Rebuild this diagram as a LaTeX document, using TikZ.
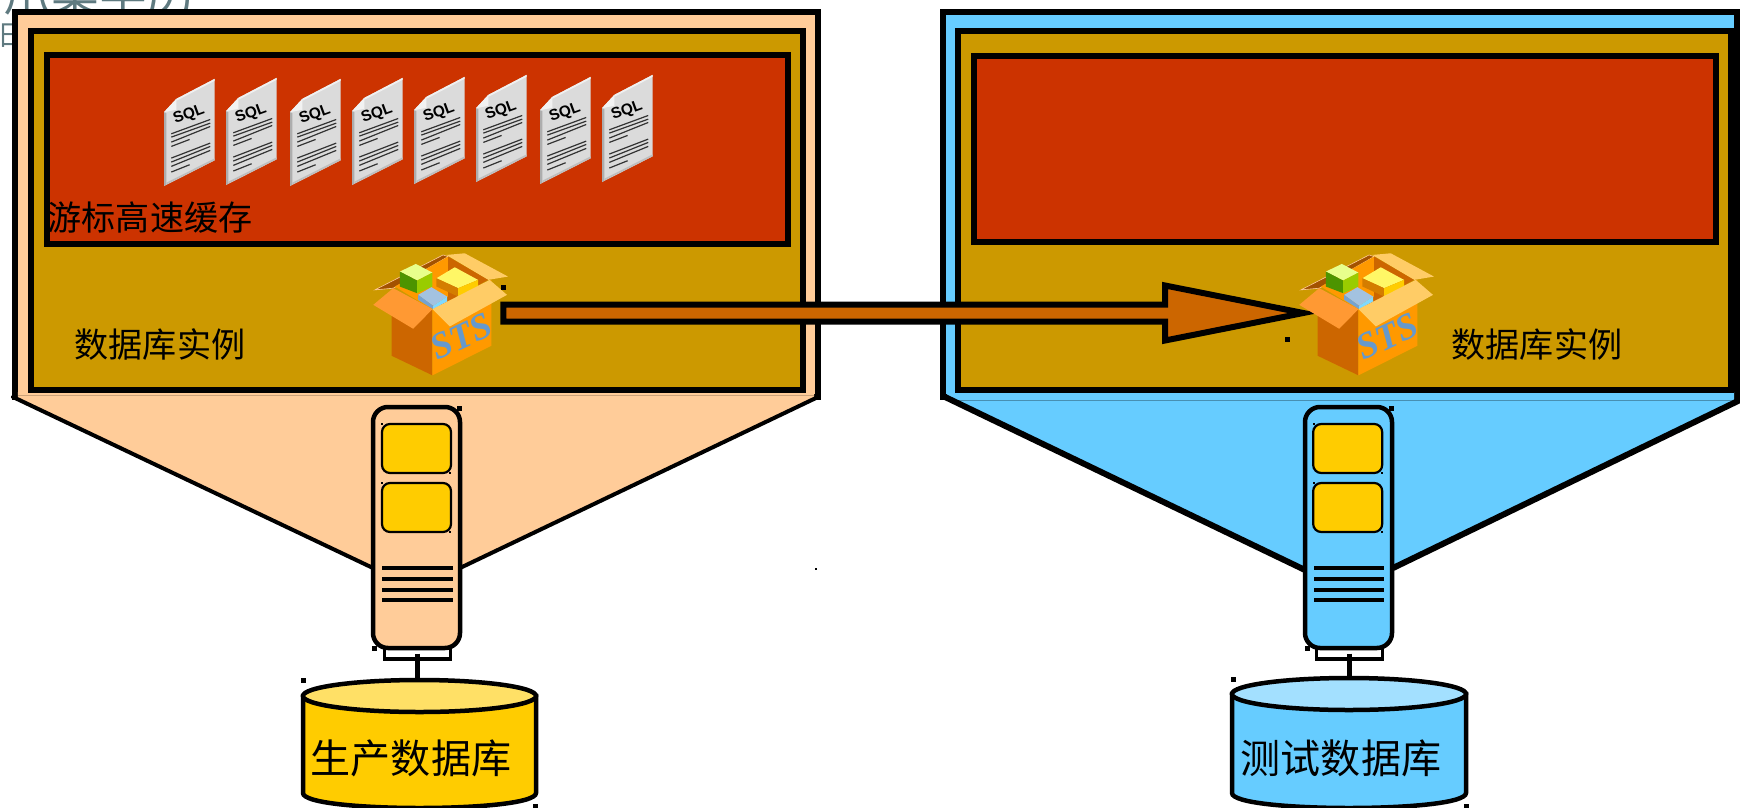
\documentclass[tikz,border=0pt]{standalone}
\usepackage{fontspec}
\newfontfamily\cjk{Noto Sans CJK SC}
\newfontfamily\stsfont{Liberation Serif}
\newfontfamily\sqlfont{Liberation Sans}
\usetikzlibrary{shapes.geometric,shapes.arrows,calc}

\definecolor{peach}{HTML}{FFCC99}
\definecolor{sky}{HTML}{66CCFF}
\definecolor{gold}{HTML}{CC9900}
\definecolor{cache}{HTML}{CC3300}
\definecolor{amber}{HTML}{FFCC00}
\definecolor{rust}{HTML}{CC6600}
\definecolor{stray}{HTML}{5F7A80}
\definecolor{boxface}{HTML}{FF9900}
\definecolor{flapleft}{HTML}{FF9933}
\definecolor{flapright}{HTML}{FFCC66}
\definecolor{stsblue}{HTML}{6699CC}

\begin{document}
\begin{tikzpicture}[
  y=-1cm,
  box/.style={rectangle, draw=black, line width=.06cm, inner sep=0pt, outer sep=0pt},
  outerbox/.style={box},
  goldbox/.style={box, fill=gold, minimum width=#1},
  cachebox/.style={box, fill=cache, minimum width=#1},
  srv/.style={box, line width=.045cm, rounded corners=.15cm, minimum width=.87cm, minimum height=2.41cm},
  slot/.style={box, line width=.022cm, rounded corners=.08cm, fill=amber, minimum width=.69cm, minimum height=.49cm},
  foot/.style={box, line width=.035cm, fill=white, minimum width=.66cm, minimum height=.11cm},
  bar/.style={line width=.04cm},
  link/.style={line width=.05cm},
  edge/.style={line width=#1, line cap=round},
  dbwall/.style={draw=black, line width=.045cm},
  dbtop/.style={ellipse, draw=black, line width=.045cm, inner sep=0pt, outer sep=0pt, minimum height=.32cm},
  flowarrow/.style={single arrow, draw=black, fill=rust, line width=.06cm, inner xsep=0pt, inner ysep=.055cm, outer sep=0pt,
    minimum height=8.00cm, minimum width=.52cm, single arrow head extend=.19cm, single arrow head indent=0cm,
    single arrow tip angle=22.5},
  hdl/.style={fill=black, inner sep=0pt, outer sep=0pt, minimum size=.05cm},
  hdlsmall/.style={hdl, minimum size=.025cm},
  lab/.style={text=black, inner sep=0pt, font=\cjk\fontsize{9.7}{11}\selectfont},
  dblab/.style={lab, font=\cjk\fontsize{11.4}{13}\selectfont},
  sqldoc/.pic={
    \begin{scope}[x=.00333cm,y=.00333cm]
      \fill[black!14] (0,222) -- (37,262) -- (152,322) -- (152,77) -- (0,0) -- cycle;
      \fill[black!6] (37,262) -- (152,322) -- (152,316) -- (37,256) -- cycle;
      \fill[black!32] (0,222) -- (7,219) -- (7,4) -- (0,0) -- cycle;
      \fill[black!25] (7,4) -- (152,77) -- (152,83) -- (7,10) -- cycle;
      \fill[black!5] (0,222) -- (37,262) -- (37,229) -- cycle;
      \draw[black!80, line width=.012cm] (22,157) -- (139,200) (22,147) -- (139,189) (22,132) -- (139,179) (22,119) -- (77,140)
        (22,84) -- (139,129) (22,72) -- (139,119) (22,59) -- (139,107) (22,42) -- (77,64);
      \node[rotate=20, inner sep=0pt, text=black, font=\sqlfont\bfseries\fontsize{4.4}{5}\selectfont] at (75,214) {SQL};
    \end{scope}
  },
  stsbox/.pic={
    \begin{scope}[x=.00333cm,y=-.00333cm]
      \fill[rust!80!black, draw=peach, line width=.006cm] (105,180) -- (310,75) -- (325,80) -- (160,175) -- cycle;
      \fill[flapright] (320,75) -- (375,70) -- (505,140) -- (445,150) -- cycle;
      \fill[boxface] (165,170) -- (325,80) -- (325,200) -- (280,240) -- cycle;
      \fill[rust] (325,80) -- (445,150) -- (280,240) -- (325,200) -- cycle;
      \fill[green!20!yellow!45!white] (180,125) -- (228,102) -- (278,128) -- (232,152) -- cycle;
      \fill[green!40!black!70!yellow] (180,125) -- (232,152) -- (232,190) -- (180,170) -- cycle;
      \fill[green!25!yellow!80!black] (232,152) -- (278,128) -- (278,170) -- (232,190) -- cycle;
      \fill[yellow!60!white] (290,145) -- (345,112) -- (415,150) -- (355,175) -- cycle;
      \fill[rust!85!yellow] (290,145) -- (355,175) -- (355,200) -- (290,170) -- cycle;
      \fill[amber] (355,175) -- (415,150) -- (415,170) -- (355,200) -- cycle;
      \fill[stsblue!60!white] (235,195) -- (275,172) -- (322,200) -- (280,228) -- cycle;
      \fill[stsblue!90!white] (235,195) -- (280,228) -- (280,238) -- (235,210) -- cycle;
      \fill[blue!30!cyan!50!white] (280,228) -- (322,200) -- (322,215) -- (280,238) -- cycle;
      \fill[rust] (155,240) -- (278,240) -- (278,437) -- (155,378) -- cycle;
      \fill[boxface] (278,240) -- (455,150) -- (455,348) -- (278,437) -- cycle;
      \fill[flapleft] (100,225) -- (160,175) -- (278,238) -- (220,297) -- cycle;
      \fill[flapright] (278,238) -- (450,150) -- (502,195) -- (330,290) -- cycle;
      \node[rotate=25, inner sep=0pt, text=stsblue, font=\stsfont\itshape\bfseries\fontsize{10.5}{12}\selectfont] at (365,320) {STS};
    \end{scope}
  },
]
\useasboundingbox (0,0) rectangle (17.40,8.08);

% text behind the left box, cut by the page
\begin{scope}
  \clip (0,0) rectangle (17.40,8.08);
  \node[anchor=base west, inner sep=0pt, text=stray, font=\cjk\fontsize{13.6}{15}\selectfont] (straytop) at (.03,.11) {爪集学历};
  \node[inner sep=0pt, text=stray, font=\cjk\fontsize{8}{9}\selectfont] (strayday) at (.12,.36) {日};
\end{scope}

% left side
\node[outerbox, fill=peach, minimum width=8.03cm, minimum height=3.85cm] (hostA) at (4.165,2.045) {};
\fill[peach] (.18,3.92) -- (.18,3.98) -- (3.72,5.68) -- (4.60,5.68) -- (8.14,3.98) -- (8.14,3.92) -- cycle;
\draw[peach!80!black, line width=.008cm] (.18,3.95) -- (8.14,3.95);
\draw[edge=.04cm] (.13,3.97) -- (3.73,5.68);
\draw[edge=.04cm] (4.60,5.68) -- (8.18,3.97);
\node[goldbox=7.72cm, minimum height=3.59cm] (instA) at (4.17,2.105) {};
\node[cachebox=7.41cm, minimum height=1.89cm] (cacheA) at (4.175,1.495) {};

% right side
\node[outerbox, fill=sky, minimum width=7.94cm, minimum height=3.85cm] (hostB) at (13.40,2.045) {};
\fill[sky] (9.47,3.92) -- (9.47,3.98) -- (13.05,5.70) -- (13.93,5.68) -- (17.34,4.00) -- (17.34,3.92) -- cycle;
\draw[sky!70!black, line width=.01cm] (9.47,4.00) -- (17.40,4.00);
\draw[edge=.06cm] (9.43,3.96) -- (13.05,5.70);
\draw[edge=.06cm] (13.93,5.68) -- (17.40,4.00);
\node[goldbox=7.73cm, minimum height=3.59cm] (instB) at (13.445,2.105) {};
\node[cachebox=7.42cm, minimum height=1.86cm] (cacheB) at (13.45,1.49) {};

% sql files
\foreach \dx/\dy in {1.64/1.86,2.26/1.85,2.90/1.86,3.52/1.85,4.14/1.84,4.76/1.82,5.40/1.84,6.02/1.82}
  \pic at (\dx,\dy) {sqldoc};

\node[lab] (cacheAlab) at (1.50,2.18) {游标高速缓存};
\node[lab] (instAlab) at (1.60,3.45) {数据库实例};
\node[lab] (instBlab) at (15.37,3.45) {数据库实例};

% arrow between the boxes
\node[flowarrow] (flow) at (8.82,3.13) {};
\pic at (3.40,2.30) {stsbox};
\pic at (12.66,2.30) {stsbox};

% servers
\node[foot] (footA) at (4.175,6.535) {};
\node[srv, fill=peach] (srvA) at (4.165,5.275) {};
\node[slot] (slotAa) at (4.165,4.485) {};
\node[slot] (slotAb) at (4.165,5.075) {};
\foreach \by in {5.68,5.79,5.90,6.00}
  \draw[bar] (3.82,\by) -- (4.53,\by);

\node[foot] (footB) at (13.495,6.535) {};
\node[srv, fill=sky] (srvB) at (13.485,5.275) {};
\node[slot] (slotBa) at (13.477,4.485) {};
\node[slot] (slotBb) at (13.477,5.075) {};
\foreach \by in {5.68,5.79,5.90,6.00}
  \draw[bar] (13.14,\by) -- (13.84,\by);

% databases
\draw[dbwall, fill=amber] (3.03,6.96) -- (3.03,7.93) .. controls (3.03,8.13) and (5.36,8.13) .. (5.36,7.93) -- (5.36,6.96) -- cycle;
\node[dbtop, minimum width=2.33cm, fill=amber!60!white] (dbA) at (4.195,6.96) {};
\draw[dbwall, fill=sky] (12.32,6.94) -- (12.32,7.93) .. controls (12.32,8.13) and (14.66,8.13) .. (14.66,7.93) -- (14.66,6.94) -- cycle;
\node[dbtop, minimum width=2.34cm, fill=sky!60!white] (dbB) at (13.49,6.94) {};
\draw[link] (footA.center) -- (footA.center |- dbA.north);
\draw[link] (footB.center) -- (footB.center |- dbB.north);
\node[dblab] (dbAlab) at (4.11,7.58) {生产数据库};
\node[dblab] (dbBlab) at (13.41,7.58) {测试数据库};

% small squares
\foreach \i/\hx/\hy in {a/4.59/4.08,b/3.74/6.48,c/3.03/6.80,d/5.35/8.06,e/5.03/2.87,f/12.87/3.39,g/13.91/4.08,h/13.07/6.48,i/12.33/6.79,j/14.66/8.06}
  \node[hdl] (hdl\i) at (\hx,\hy) {};
\foreach \i/\hx/\hy in {a/3.82/4.24,b/4.50/4.73,c/3.82/4.83,d/4.50/5.32,e/13.14/4.24,f/13.82/4.73,g/13.14/4.83,h/13.82/5.32,i/8.16/5.69}
  \node[hdlsmall] (tick\i) at (\hx,\hy) {};
\end{tikzpicture}
\end{document}
